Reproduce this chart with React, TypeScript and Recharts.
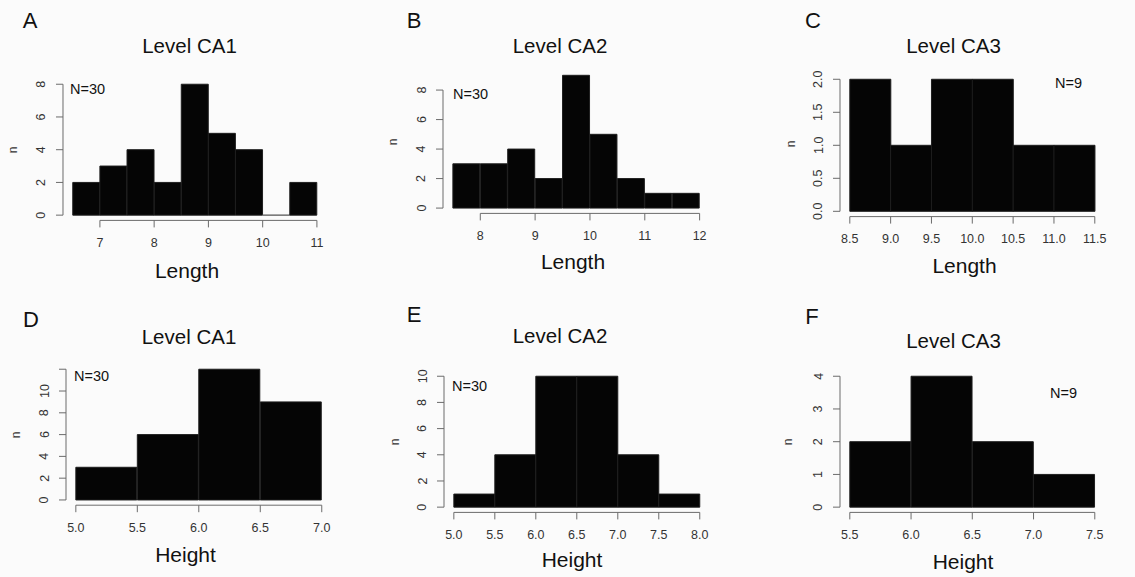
import React from 'react';
import { BarChart, Bar, XAxis, YAxis, ReferenceLine } from 'recharts';

// ---------------- data ----------------
// A: Length, Level CA1
const lengthCA1Start = 6.5;
const lengthCA1BinWidth = 0.5;
const lengthCA1Counts = [2, 3, 4, 2, 8, 5, 4, 0, 2];
const lengthCA1XTicks = [7, 8, 9, 10, 11];
const lengthCA1XLabels = ['7', '8', '9', '10', '11'];
const lengthCA1YTicks = [0, 2, 4, 6, 8];
const lengthCA1YLabels = ['0', '2', '4', '6', '8'];

// B: Length, Level CA2
const lengthCA2Start = 7.5;
const lengthCA2BinWidth = 0.5;
const lengthCA2Counts = [3, 3, 4, 2, 9, 5, 2, 1, 1];
const lengthCA2XTicks = [8, 9, 10, 11, 12];
const lengthCA2XLabels = ['8', '9', '10', '11', '12'];
const lengthCA2YTicks = [0, 2, 4, 6, 8];
const lengthCA2YLabels = ['0', '2', '4', '6', '8'];

// C: Length, Level CA3
const lengthCA3Start = 8.5;
const lengthCA3BinWidth = 0.5;
const lengthCA3Counts = [2, 1, 2, 2, 1, 1];
const lengthCA3XTicks = [8.5, 9, 9.5, 10, 10.5, 11, 11.5];
const lengthCA3XLabels = ['8.5', '9.0', '9.5', '10.0', '10.5', '11.0', '11.5'];
const lengthCA3YTicks = [0, 0.5, 1, 1.5, 2];
const lengthCA3YLabels = ['0.0', '0.5', '1.0', '1.5', '2.0'];

// D: Height, Level CA1
const heightCA1Start = 5;
const heightCA1BinWidth = 0.5;
const heightCA1Counts = [3, 6, 12, 9];
const heightCA1XTicks = [5, 5.5, 6, 6.5, 7];
const heightCA1XLabels = ['5.0', '5.5', '6.0', '6.5', '7.0'];
const heightCA1YTicks = [0, 2, 4, 6, 8, 10, 12];
const heightCA1YLabels = ['0', '2', '4', '6', '8', '10', ''];

// E: Height, Level CA2
const heightCA2Start = 5;
const heightCA2BinWidth = 0.5;
const heightCA2Counts = [1, 4, 10, 10, 4, 1];
const heightCA2XTicks = [5, 5.5, 6, 6.5, 7, 7.5, 8];
const heightCA2XLabels = ['5.0', '5.5', '6.0', '6.5', '7.0', '7.5', '8.0'];
const heightCA2YTicks = [0, 2, 4, 6, 8, 10];
const heightCA2YLabels = ['0', '2', '4', '6', '8', '10'];

// F: Height, Level CA3
const heightCA3Start = 5.5;
const heightCA3BinWidth = 0.5;
const heightCA3Counts = [2, 4, 2, 1];
const heightCA3XTicks = [5.5, 6, 6.5, 7, 7.5];
const heightCA3XLabels = ['5.5', '6.0', '6.5', '7.0', '7.5'];
const heightCA3YTicks = [0, 1, 2, 3, 4];
const heightCA3YLabels = ['0', '1', '2', '3', '4'];

const panelLetters = ['A', 'B', 'C', 'D', 'E', 'F'];
const panelTitles = ['Level CA1', 'Level CA2', 'Level CA3', 'Level CA1', 'Level CA2', 'Level CA3'];
const panelXTitles = ['Length', 'Length', 'Length', 'Height', 'Height', 'Height'];
const panelNTexts = ['N=30', 'N=30', 'N=9', 'N=30', 'N=30', 'N=9'];
const yTitle = 'n';

// ---------------- style / layout ----------------
const FONT = '"Liberation Sans", Arial, Helvetica, sans-serif';
const AXIS = '#6a6a6a';
const TICK_TEXT = '#333333';
const INK = '#111111';
const BG = '#fbfbfb';
const BAR_FILL = '#050505';
const BAR_EDGE = '#1e1e1e';

type Box = { l: number; t: number; r: number; b: number };
type Pt = { x: number; y: number };
type Layout = { plot: Box; letter: Pt; title: Pt; n: Pt; nText: Pt; xTitle: Pt };

const layouts: Layout[] = [
  { plot: { l: 63.1, t: 78.8, r: 326.8, b: 220.2 }, letter: { x: 30, y: 20 }, title: { x: 189.5, y: 45.5 }, n: { x: 13, y: 150 }, nText: { x: 70, y: 88.5 }, xTitle: { x: 187, y: 270.5 } },
  { plot: { l: 443.4, t: 69.9, r: 709.9, b: 213.3 }, letter: { x: 414, y: 20 }, title: { x: 560, y: 45 }, n: { x: 393, y: 142 }, nText: { x: 453, y: 94 }, xTitle: { x: 573, y: 261 } },
  { plot: { l: 840.2, t: 73.7, r: 1104.8, b: 216.3 }, letter: { x: 813, y: 20 }, title: { x: 953.5, y: 45.5 }, n: { x: 791, y: 144 }, nText: { x: 1055, y: 82.5 }, xTitle: { x: 964.5, y: 265.5 } },
  { plot: { l: 66.2, t: 364, r: 331.8, b: 505.2 }, letter: { x: 31, y: 319 }, title: { x: 189, y: 336.5 }, n: { x: 16, y: 435 }, nText: { x: 74, y: 375.5 }, xTitle: { x: 185.5, y: 554.5 } },
  { plot: { l: 444.2, t: 370.8, r: 709.8, b: 512.2 }, letter: { x: 414, y: 314 }, title: { x: 560, y: 335.5 }, n: { x: 395, y: 442 }, nText: { x: 452, y: 385.5 }, xTitle: { x: 572, y: 559.5 } },
  { plot: { l: 840.2, t: 370.8, r: 1104.8, b: 512.2 }, letter: { x: 812, y: 316 }, title: { x: 953.5, y: 340 }, n: { x: 788, y: 442 }, nText: { x: 1050, y: 392.5 }, xTitle: { x: 963, y: 561.5 } },
];

type HistSpec = {
  start: number;
  binWidth: number;
  counts: number[];
  xTicks: number[];
  xLabels: string[];
  yTicks: number[];
  yLabels: string[];
};

const hists: HistSpec[] = [
  { start: lengthCA1Start, binWidth: lengthCA1BinWidth, counts: lengthCA1Counts, xTicks: lengthCA1XTicks, xLabels: lengthCA1XLabels, yTicks: lengthCA1YTicks, yLabels: lengthCA1YLabels },
  { start: lengthCA2Start, binWidth: lengthCA2BinWidth, counts: lengthCA2Counts, xTicks: lengthCA2XTicks, xLabels: lengthCA2XLabels, yTicks: lengthCA2YTicks, yLabels: lengthCA2YLabels },
  { start: lengthCA3Start, binWidth: lengthCA3BinWidth, counts: lengthCA3Counts, xTicks: lengthCA3XTicks, xLabels: lengthCA3XLabels, yTicks: lengthCA3YTicks, yLabels: lengthCA3YLabels },
  { start: heightCA1Start, binWidth: heightCA1BinWidth, counts: heightCA1Counts, xTicks: heightCA1XTicks, xLabels: heightCA1XLabels, yTicks: heightCA1YTicks, yLabels: heightCA1YLabels },
  { start: heightCA2Start, binWidth: heightCA2BinWidth, counts: heightCA2Counts, xTicks: heightCA2XTicks, xLabels: heightCA2XLabels, yTicks: heightCA2YTicks, yLabels: heightCA2YLabels },
  { start: heightCA3Start, binWidth: heightCA3BinWidth, counts: heightCA3Counts, xTicks: heightCA3XTicks, xLabels: heightCA3XLabels, yTicks: heightCA3YTicks, yLabels: heightCA3YLabels },
];

const Y_AXIS_W = 60;
const X_AXIS_H = 40;
const M_TOP = 10;
const M_RIGHT = 10;
const TICK_FONT = 12.5;

const HistBar = (props: any) => {
  const { x, y, width, height } = props;
  if (x == null || y == null || width == null || height == null) return null;
  const top = Math.min(y, y + height);
  const bottom = Math.max(y, y + height);
  const d = `M${x},${bottom}L${x},${top}L${x + width},${top}L${x + width},${bottom}Z`;
  const empty = Math.abs(height) < 0.5;
  return <path d={d} fill={BAR_FILL} stroke={empty ? AXIS : BAR_EDGE} strokeWidth={1} />;
};

function Histogram({ spec, plot }: { spec: HistSpec; plot: Box }) {
  const { start, binWidth, counts, xTicks, xLabels, yTicks, yLabels } = spec;
  const rows = counts.map((n, i) => ({ mid: start + binWidth * (i + 0.5), n }));
  const lo = start;
  const hi = start + binWidth * counts.length;
  const xr = hi - lo;
  const xDom: [number, number] = [lo - 0.04 * xr, hi + 0.04 * xr];
  const ymax = Math.max(...counts);
  const yDom: [number, number] = [-0.04 * ymax, 1.04 * ymax];
  const cw = plot.r - plot.l + Y_AXIS_W + M_RIGHT;
  const ch = plot.b - plot.t + M_TOP + X_AXIS_H;

  const xTick = (p: any) => {
    const i = xTicks.indexOf(p.payload.value);
    return (
      <text x={p.x} y={p.y} textAnchor="middle" dominantBaseline="central" fontFamily={FONT} fontSize={TICK_FONT} fill={TICK_TEXT}>
        {i >= 0 ? xLabels[i] : ''}
      </text>
    );
  };
  const yTick = (p: any) => {
    const i = yTicks.indexOf(p.payload.value);
    return (
      <text x={p.x} y={p.y} transform={`rotate(-90 ${p.x} ${p.y})`} textAnchor="middle" dominantBaseline="central" fontFamily={FONT} fontSize={TICK_FONT} fill={TICK_TEXT}>
        {i >= 0 ? yLabels[i] : ''}
      </text>
    );
  };

  return (
    <div style={{ position: 'absolute', left: plot.l - Y_AXIS_W, top: plot.t - M_TOP }}>
      <BarChart width={cw} height={ch} data={rows} margin={{ top: M_TOP, right: M_RIGHT, left: 0, bottom: 0 }} barCategoryGap={0} barGap={0}>
        <XAxis
          dataKey="mid"
          type="number"
          domain={xDom}
          ticks={xTicks}
          interval={0}
          allowDataOverflow
          height={X_AXIS_H}
          axisLine={false}
          tickLine={{ stroke: AXIS, strokeWidth: 1 }}
          tickSize={7}
          tickMargin={15.5}
          tick={xTick}
        />
        <YAxis
          type="number"
          domain={yDom}
          ticks={yTicks}
          interval={0}
          allowDataOverflow
          width={Y_AXIS_W}
          axisLine={false}
          tickLine={{ stroke: AXIS, strokeWidth: 1 }}
          tickSize={7}
          tickMargin={14.5}
          tick={yTick}
        />
        <Bar dataKey="n" isAnimationActive={false} shape={HistBar} />
        <ReferenceLine
          segment={[{ x: xTicks[0], y: yDom[0] }, { x: xTicks[xTicks.length - 1], y: yDom[0] }]}
          stroke={AXIS}
          strokeWidth={1}
          ifOverflow="visible"
        />
        <ReferenceLine
          segment={[{ x: xDom[0], y: yTicks[0] }, { x: xDom[0], y: yTicks[yTicks.length - 1] }]}
          stroke={AXIS}
          strokeWidth={1}
          ifOverflow="visible"
        />
      </BarChart>
    </div>
  );
}

export default function App() {
  return (
    <div style={{ position: 'absolute', left: 0, top: 0, width: 1135, height: 577, background: BG, overflow: 'hidden', fontFamily: FONT }}>
      {hists.map((h, i) => (
        <Histogram key={i} spec={h} plot={layouts[i].plot} />
      ))}
      <svg width={1135} height={577} style={{ position: 'absolute', left: 0, top: 0, pointerEvents: 'none' }}>
        {layouts.map((L, i) => (
          <g key={i} fontFamily={FONT}>
            <text x={L.letter.x} y={L.letter.y} textAnchor="middle" dominantBaseline="central" fontSize={22} fill={INK}>
              {panelLetters[i]}
            </text>
            <text x={L.title.x} y={L.title.y} textAnchor="middle" dominantBaseline="central" fontSize={20.5} fill={INK}>
              {panelTitles[i]}
            </text>
            <text x={L.n.x} y={L.n.y} transform={`rotate(-90 ${L.n.x} ${L.n.y})`} textAnchor="middle" dominantBaseline="central" fontSize={12} fill={TICK_TEXT}>
              {yTitle}
            </text>
            <text x={L.nText.x} y={L.nText.y} textAnchor="start" dominantBaseline="central" fontSize={14.5} fill={INK}>
              {panelNTexts[i]}
            </text>
            <text x={L.xTitle.x} y={L.xTitle.y} textAnchor="middle" dominantBaseline="central" fontSize={21} fill={INK}>
              {panelXTitles[i]}
            </text>
          </g>
        ))}
      </svg>
    </div>
  );
}
